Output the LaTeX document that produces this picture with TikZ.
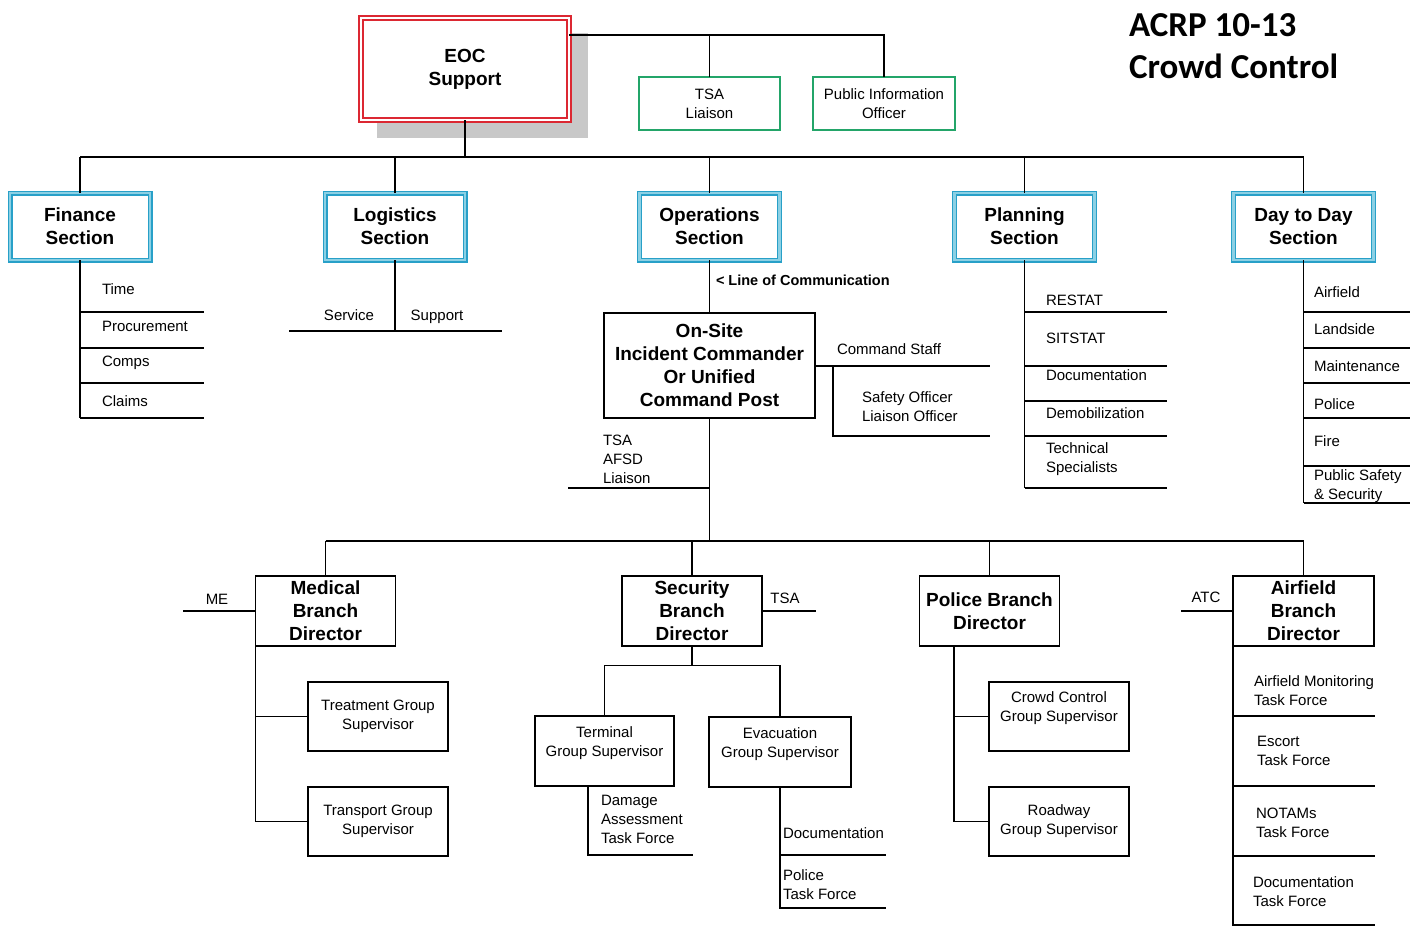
\documentclass[tikz,border=0pt]{standalone}
\usepackage{fontspec}
\setmainfont{Liberation Sans}
\newfontfamily\titlefont{Carlito}
\definecolor{eocred}{RGB}{220,40,50}
\definecolor{secblue}{RGB}{40,160,200}
\definecolor{seclight}{RGB}{140,208,228}
\definecolor{grn}{RGB}{35,165,105}
\definecolor{shadowgray}{RGB}{200,200,200}
\begin{document}
\begin{tikzpicture}[x=1pt,y=-1pt,
  base/.style={inner sep=0pt, outer sep=0pt, align=center, text=black},
  bf/.style={font=\bfseries\fontsize{19}{23}\selectfont},
  rg/.style={font=\fontsize{15}{19}\selectfont},
  secbox/.style={base,bf,draw=secblue,line width=1.4pt,double=seclight,double distance=2.2pt,fill=white,minimum width=140pt,minimum height=67pt},
  eocbox/.style={base,bf,draw=eocred,line width=1.8pt,double=white,double distance=1.8pt,fill=white,minimum width=208pt,minimum height=102pt},
  grnbox/.style={base,rg,draw=grn,line width=1.8pt,fill=white,minimum width=141pt,minimum height=53pt},
  brbox/.style={base,bf,draw=black,line width=1.7pt,fill=white,minimum width=140pt,minimum height=70pt},
  grpbox/.style={base,rg,draw=black,line width=1.7pt,fill=white,minimum width=140pt,minimum height=69pt},
  uplabel/.style={label={[base,rg,yshift=8pt]center:{#1}}},
  item/.style={base,rg,anchor=west,align=left},
  conn/.style={line width=1.7pt,draw=black},
]
\useasboundingbox (0,0) rectangle (1421,926);
\fill[white] (0,0) rectangle (1421,926);

% title
\node[base, anchor=west, align=left, font=\titlefont\bfseries\fontsize{35}{42}\selectfont] (title) at (1129,46) {ACRP 10-13\\Crowd Control};

% EOC level
\fill[shadowgray] (377,33) rectangle (588,138);
\node[eocbox] (eoc) at (465,69) {EOC\\Support};
\node[grnbox] (tsa) at (709.5,103.5) {TSA\\Liaison};
\node[grnbox, minimum width=142pt] (pio) at (884,103.5) {Public Information\\Officer};
\coordinate (tj) at (884,35);
\draw[conn] (eoc.east |- tj) -- (tj) -- (pio.north);
\draw[conn] (tsa.north) -- (tsa.north |- tj);

% sections
\coordinate (sbus) at (0,157);
\node[secbox] (fin) at (80,226.5) {Finance\\Section};
\node[secbox] (log) at (395,226.5) {Logistics\\Section};
\node[secbox] (ops) at (709.5,226.5) {Operations\\Section};
\node[secbox] (pla) at (1024.5,226.5) {Planning\\Section};
\node[secbox] (day) at (1303.5,226.5) {Day to Day\\Section};
\draw[conn] (eoc.south) -- (eoc.south |- sbus);
\draw[conn] (fin.north |- sbus) -- (day.north |- sbus);
\foreach \n in {fin,log,ops,pla,day} \draw[conn] (\n.north) -- (\n.north |- sbus);

% finance list
\draw[conn] (fin.south) -- (fin.south |- 0,418);
\foreach \y in {312,348,383,418} \draw[conn] (fin.south |- 0,\y) -- (204,\y);
\node[item] (time) at (102,289) {Time};
\node[item] (proc) at (102,326) {Procurement};
\node[item] (comps) at (102,363) {Comps};
\node[item] (claims) at (102,401) {Claims};

% logistics
\draw[conn] (log.south) -- (log.south |- 0,331);
\draw[conn] (289,331) -- (502,331);
\node[base,rg,anchor=base] (svc) at (349,320) {Service};
\node[base,rg,anchor=base] (sup) at (437,320) {Support};

% operations
\node[base, font=\bfseries\fontsize{14.5}{17}\selectfont, anchor=west] (loc) at (716,280) {< Line of Communication};
\node[brbox, minimum width=211pt, minimum height=105pt] (ic) at (709.5,365.5) {On-Site\\Incident Commander\\Or Unified\\Command Post};
\draw[conn] (ops.south) -- (ic.north);
\draw[conn] (ic.east |- 0,366) -- (990,366);
\draw[conn] (833,366) -- (833,436) -- (990,436);
\node[item] (cs) at (837,349) {Command Staff};
\node[item] (so) at (862,407) {Safety Officer\\Liaison Officer};
\coordinate (bbus) at (0,541);
\draw[conn] (ic.south) -- (ic.south |- bbus);
\draw[conn] (568,488) -- (ic.south |- 0,488);
\node[item] (afsd) at (603,459) {TSA\\AFSD\\Liaison};

% planning
\draw[conn] (pla.south) -- (pla.south |- 0,488);
\foreach \y in {312,366,401,436,488} \draw[conn] (pla.south |- 0,\y) -- (1167,\y);
\node[item] (restat) at (1046,300) {RESTAT};
\node[item] (sitstat) at (1046,338) {SITSTAT};
\node[item] (pdoc) at (1046,375) {Documentation};
\node[item] (demob) at (1046,413) {Demobilization};
\node[item] (tech) at (1046,459.5) {Technical\\Specialists};

% day to day
\draw[conn] (day.south) -- (day.south |- 0,503);
\foreach \y in {312,348,383,418,466,503} \draw[conn] (day.south |- 0,\y) -- (1410,\y);
\node[item] (dair) at (1314,292) {Airfield};
\node[item] (dland) at (1314,329) {Landside};
\node[item] (dmaint) at (1314,366) {Maintenance};
\node[item] (dpol) at (1314,404) {Police};
\node[item] (dfire) at (1314,441) {Fire};
\node[item] (dpub) at (1314,486) {Public Safety\\\& Security};

% branches
\node[brbox] (med) at (325.5,611) {Medical\\Branch\\Director};
\node[brbox] (secb) at (692,611) {Security\\Branch\\Director};
\node[brbox] (pol) at (989.5,611) {Police Branch\\Director};
\node[brbox, minimum width=141pt] (air) at (1303.5,611) {Airfield\\Branch\\Director};
\draw[conn] (med.north |- bbus) -- (air.north |- bbus);
\foreach \n in {med,secb,pol,air} \draw[conn] (\n.north |- bbus) -- (\n.north);

% medical
\draw[conn] (183,611) -- (med.west);
\node[base,rg] (me) at (217,599) {ME};
\node[grpbox] (treat) at (378,716.5) {Treatment Group\\Supervisor};
\node[grpbox] (trans) at (378,821.5) {Transport Group\\Supervisor};
\draw[conn] (med.south west) |- (trans.west);
\draw[conn] (med.south west |- treat.west) -- (treat.west);

% security
\draw[conn] (secb.east) -- (816,611);
\node[base,rg] (tsa2) at (785,598) {TSA};
\node[grpbox, minimum width=139pt, minimum height=70pt, uplabel={Terminal\\Group Supervisor}] (term) at (604.5,751) {};
\node[grpbox, minimum width=142pt, minimum height=70pt, uplabel={Evacuation\\Group Supervisor}] (evac) at (780,752) {};
\coordinate (sj) at (692,665.5);
\draw[conn] (secb.south) -- (sj);
\draw[conn] (term.north) |- (sj) -| (evac.north);
\draw[conn] (term.south -| 588,0) -- (588,855) -- (693,855);
\node[item] (dmg) at (601,819) {Damage\\Assessment\\Task Force};
\draw[conn] (evac.south) -- (evac.south |- 0,908) -- (886,908);
\draw[conn] (evac.south |- 0,855) -- (886,855);
\node[item] (edoc) at (783,833) {Documentation};
\node[item] (eptf) at (783,885) {Police\\Task Force};

% police
\node[grpbox, uplabel={Crowd Control\\Group Supervisor}] (crowd) at (1059,716.5) {};
\node[grpbox] (road) at (1059,821.5) {Roadway\\Group Supervisor};
\draw[conn] (pol.south -| 954,0) |- (road.west);
\draw[conn] (crowd.west -| 954,0) -- (crowd.west);

% airfield
\draw[conn] (1181,611) -- (air.west);
\node[base,rg] (atc) at (1206,597) {ATC};
\draw[conn] (air.south west) -- (air.south west |- 0,926);
\foreach \y in {716,786,856,925} \draw[conn] (air.south west |- 0,\y) -- (1375,\y);
\node[item] (amon) at (1254,690.5) {Airfield Monitoring\\Task Force};
\node[item] (esc) at (1257,750.5) {Escort\\Task Force};
\node[item] (notam) at (1256,823) {NOTAMs\\Task Force};
\node[item] (adoc) at (1253,891.5) {Documentation\\Task Force};
\end{tikzpicture}
\end{document}
